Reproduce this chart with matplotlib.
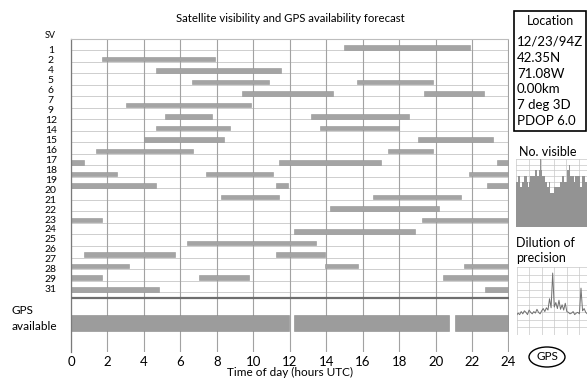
import matplotlib
matplotlib.use('Agg')
import matplotlib.pyplot as plt
from matplotlib.patches import Rectangle, Ellipse
import numpy as np

plt.rcParams['font.family'] = ['Lato', 'DejaVu Sans']

W, H = 587, 378

SV_LABELS = ['1', '2', '4', '5', '6', '7', '9', '12', '14', '15', '16', '17', '18',
             '19', '20', '21', '22', '23', '24', '25', '26', '27', '28', '29', '31']

# visibility windows (start, end in hours UTC), one list per bar row, top to bottom
PASSES = [
    [(15.0, 21.9)],
    [(1.68, 7.9)],
    [(4.69, 11.54)],
    [(6.65, 10.88), (15.7, 19.84)],
    [(9.36, 14.36), (19.34, 22.67)],
    [(3.02, 9.89)],
    [(5.16, 7.71), (13.19, 18.53)],
    [(4.69, 8.70), (13.68, 18.0)],
    [(4.01, 8.37), (19.05, 23.17)],
    [(1.36, 6.67), (17.38, 19.87)],
    [(0.0, 0.71), (11.39, 17.0), (23.35, 24.0)],
    [(0.0, 2.53), (7.38, 11.06), (21.85, 24.0)],
    [(0.0, 4.69), (11.23, 11.88), (22.84, 24.0)],
    [(8.22, 11.39), (16.58, 21.37)],
    [(14.23, 20.18)],
    [(0.0, 1.70), (19.23, 24.0)],
    [(12.25, 18.88)],
    [(6.37, 13.42)],
    [(0.71, 5.70), (11.25, 13.92)],
    [(0.0, 3.2), (13.92, 15.75), (21.54, 24.0)],
    [(0.0, 1.70), (7.03, 9.74), (20.40, 24.0)],
    [(0.0, 4.85), (22.71, 24.0)],
]

GPS_AVAILABLE = [(0.0, 11.94), (12.25, 20.75), (21.06, 24.0)]
HOUR_TICKS = list(range(0, 25, 2))

# number of satellites visible (step, hours UTC)
VIS_HOURS = [0.0, 0.7, 1.4, 2.0, 2.4, 3.5, 3.9, 4.3, 4.6, 6.2, 6.8, 7.3, 7.6, 8.0, 8.3,
             9.4, 10.0, 10.6, 11.0, 12.0, 14.0, 14.7, 15.5, 16.3, 16.8, 17.2, 18.4,
             19.0, 20.5, 21.0, 22.0, 22.7, 24.0]
VIS_COUNT = [8, 9, 7, 8, 9, 8, 7, 8, 9, 10, 9, 10, 12, 10, 9,
             8, 7, 8, 6, 7, 8, 9, 8, 10, 11, 9, 8,
             9, 7, 9, 8, 9, 9]

DOP_HOURS = np.arange(0, 24.5, 0.5)
DOP_VALUES = [2.6, 2.9, 2.7, 3.1, 2.8, 3.2, 3.0, 2.7, 3.3, 3.0, 2.8, 3.1, 2.9, 3.4, 3.0,
              2.8, 3.2, 3.5, 3.1, 3.6, 3.3, 4.8, 3.6, 8.2, 3.7, 4.3, 3.5, 4.6, 3.4, 4.0,
              3.3, 4.2, 3.1, 3.0, 2.8, 2.9, 3.1, 2.7, 2.9, 3.0, 2.8, 6.2, 3.2, 3.5, 3.0,
              2.8, 3.1, 2.9, 3.0]

LOCATION_LINES = ['12/23/94Z', '42.35N', '71.08W', '0.00km', '7 deg 3D', 'PDOP 6.0']

BAR_COLOR = '#a4a4a4'


def fx(px):
    return px / W


def fy(py):
    return 1 - py / H


def px_axes(x0, y0, x1, y1):
    return [fx(x0), fy(y1), (x1 - x0) / W, (y1 - y0) / H]


fig = plt.figure(figsize=(W / 100, H / 100), dpi=100)

# main chart
ax = fig.add_axes(px_axes(71, 39, 508.5, 352))
n = len(PASSES)
y_top, y_bot = -0.72, 26.45
ax.set_xlim(0, 24)
ax.set_ylim(y_bot, y_top)

ax.hlines(np.arange(n) + 0.25, 0, 24, color='#c6c6c6', lw=0.6, zorder=1)
ax.vlines(HOUR_TICKS, y_top, y_bot, color='#a2a2a2', lw=0.8, zorder=1)
ax.axhline(n - 1 + 0.72, color='#6e6e6e', lw=1.6, zorder=3)

for i, row in enumerate(PASSES):
    ax.broken_barh([(s, e - s) for s, e in row], (i - 0.2, 0.4),
                   facecolors=BAR_COLOR, edgecolor='#949494', linewidth=0.4, zorder=2)

ax.broken_barh([(s, e - s) for s, e in GPS_AVAILABLE], (23.93 - 0.68, 1.36),
               facecolors='#9c9c9c', edgecolor='#8a8a8a', linewidth=0.4, zorder=2)

ax.set_xticks(HOUR_TICKS)
ax.set_yticks([])
ax.tick_params(axis='x', length=0, pad=3, labelsize=9.5)
ax.set_xlabel('Time of day (hours UTC)', fontsize=8.5, labelpad=-1)
for side in ('bottom', 'right'):
    ax.spines[side].set_visible(False)
ax.spines['top'].set_color('#bdbdbd')
ax.spines['top'].set_linewidth(0.8)
ax.spines['left'].set_color('#7a7a7a')
ax.spines['left'].set_linewidth(0.9)

label_pos = 0.295 + np.arange(len(SV_LABELS)) * (20.75 / (len(SV_LABELS) - 1))
for lab, y in zip(SV_LABELS, label_pos):
    ax.text(-0.046, y, lab, transform=ax.get_yaxis_transform(),
            ha='center', va='center', fontsize=7.5, clip_on=False)

fig.text(fx(50), fy(35), 'SV', ha='center', va='center', fontsize=6.5)
fig.text(fx(12), fy(310), 'GPS', ha='left', va='center', fontsize=8.5)
fig.text(fx(12), fy(326), 'available', ha='left', va='center', fontsize=8.5)
fig.text(fx(290), fy(18), 'Satellite visibility and GPS availability forecast',
         ha='center', va='center', fontsize=8.2)

# location box
fig.patches.append(Rectangle((fx(514), fy(131)), (586 - 514) / W, (131 - 11) / H,
                             transform=fig.transFigure, fill=False, lw=1.2, ec='black'))
fig.text(fx(550), fy(21), 'Location', ha='center', va='center', fontsize=9)
for k, line in enumerate(LOCATION_LINES):
    fig.text(fx(517), fy(42 + k * 15.8), line, ha='left', va='center', fontsize=9.5)

# number visible
fig.text(fx(548), fy(152), 'No. visible', ha='center', va='center', fontsize=9)
ax2 = fig.add_axes(px_axes(516, 159, 591, 227))
ax2.fill_between(VIS_HOURS, VIS_COUNT, step='post', color='#939393', lw=0, zorder=2)
ax2.set_xlim(0, 24)
ax2.set_ylim(0, 12)
ax2.set_xticks(range(0, 25, 4))
ax2.set_yticks(range(0, 13))
ax2.grid(color='#c8c8c8', lw=0.5)
ax2.set_axisbelow(True)
ax2.tick_params(length=0, labelbottom=False, labelleft=False)
for s in ax2.spines.values():
    s.set_visible(False)

# dilution of precision
fig.text(fx(516), fy(243), 'Dilution of', ha='left', va='center', fontsize=9)
fig.text(fx(516), fy(258), 'precision', ha='left', va='center', fontsize=9)
ax3 = fig.add_axes(px_axes(516.5, 267, 592, 335))
ax3.plot(DOP_HOURS, DOP_VALUES, color='#707070', lw=0.7)
ax3.set_xlim(0, 24)
ax3.set_ylim(0, 9)
ax3.set_xticks(range(0, 25, 4))
ax3.set_yticks(range(0, 10))
ax3.grid(color='#c8c8c8', lw=0.5)
ax3.tick_params(length=0, labelbottom=False, labelleft=False)
for s in ax3.spines.values():
    s.set_visible(False)

# GPS badge
fig.patches.append(Ellipse((fx(547), fy(357)), 36 / W, 20 / H, transform=fig.transFigure,
                           fill=False, lw=1.0, ec='black'))
fig.text(fx(547), fy(357), 'GPS', ha='center', va='center', fontsize=8.5)

fig.savefig('out.png', dpi=100)
